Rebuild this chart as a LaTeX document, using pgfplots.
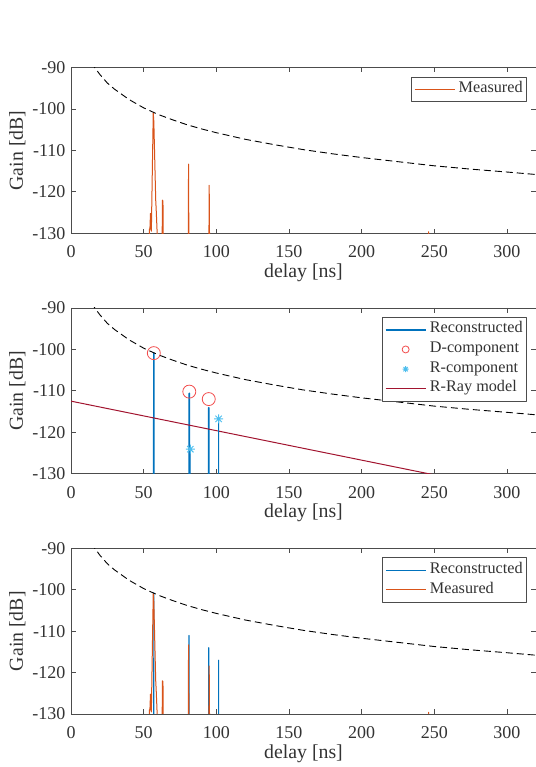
\documentclass[border=0pt]{standalone}
\usepackage{fontspec}
\setmainfont{Liberation Serif}
\usepackage{pgfplots}
\pgfplotsset{compat=1.18}
\definecolor{mblue}{rgb}{0,0.447,0.741}
\definecolor{morange}{rgb}{0.85,0.325,0.098}
\definecolor{mcyan}{rgb}{0.301,0.745,0.933}
\definecolor{mdred}{rgb}{0.635,0.078,0.184}
\definecolor{mred}{rgb}{0.95,0.3,0.3}
\definecolor{axgray}{rgb}{0.3,0.3,0.3}
\definecolor{txtgray}{rgb}{0.2,0.2,0.2}

\pgfdeclareplotmark{mast}{%
 \pgfpathmoveto{\pgfqpoint{-\pgfplotmarksize}{0pt}}\pgfpathlineto{\pgfqpoint{\pgfplotmarksize}{0pt}}%
 \pgfpathmoveto{\pgfqpoint{0pt}{-\pgfplotmarksize}}\pgfpathlineto{\pgfqpoint{0pt}{\pgfplotmarksize}}%
 \pgfpathmoveto{\pgfqpoint{-0.707\pgfplotmarksize}{-0.707\pgfplotmarksize}}\pgfpathlineto{\pgfqpoint{0.707\pgfplotmarksize}{0.707\pgfplotmarksize}}%
 \pgfpathmoveto{\pgfqpoint{-0.707\pgfplotmarksize}{0.707\pgfplotmarksize}}\pgfpathlineto{\pgfqpoint{0.707\pgfplotmarksize}{-0.707\pgfplotmarksize}}%
 \pgfusepathqstroke}

\pgfplotstableread{
x y
0 -140
53.6 -140
53.9 -129
54.3 -129
54.7 -125.2
55.0 -129
55.3 -129.5
56.6 -100.9
57.0 -103
58.3 -122
58.6 -124
59.3 -130
59.5 -140
62.6 -140
62.9 -122.0
63.3 -122.2
63.5 -140
80.6 -140
80.9 -113.3
81.2 -140
94.8 -140
95.1 -118.4
95.5 -140
245.8 -140
246.1 -129.6
246.4 -140
320 -140
}\measured

\pgfplotstableread{
x y
14 -88.6
16.4 -90
20 -91.7
25 -93.7
30 -95.2
40 -97.7
50 -99.7
60 -101.3
70 -102.6
80 -103.8
90 -104.8
100 -105.7
120 -107.3
140 -108.6
160 -109.8
180 -110.8
200 -111.7
225 -112.7
250 -113.7
275 -114.5
300 -115.2
320 -115.8
}\bound

\pgfplotsset{
  panel/.style={
    scale only axis, width=465bp, height=165.6bp, anchor=south west,
    xmin=0, xmax=320, ymin=-130, ymax=-90,
    xtick={0,50,...,300}, ytick={-130,-120,...,-90},
    tick align=inside, major tick length=4.6bp,
    axis line style={axgray, line width=0.8bp},
    every tick/.style={axgray, line width=0.8bp},
    tick label style={font=\fontsize{18bp}{20bp}\selectfont, text=txtgray},
    xticklabel style={yshift=-9bp},
    yticklabel style={xshift=-2bp},
    /pgf/number format/assume math mode=true,
    label style={font=\fontsize{19.8bp}{22bp}\selectfont, text=txtgray},
    xlabel={delay [ns]}, ylabel={Gain [dB]},
    xlabel style={yshift=1bp},
    legend cell align=left,
    legend style={at={(1,1)}, anchor=north east, xshift=-9bp, yshift=-9bp,
      draw=axgray, line width=0.8bp, fill=white,
      font=\fontsize{16.2bp}{18bp}\selectfont, text=txtgray,
      inner xsep=2.5bp, inner ysep=2.5bp, row sep=0bp, column sep=2bp,
      nodes={inner xsep=1.5bp, inner ysep=1.5bp, text height=11.5bp, text depth=5.2bp}},
    legend image code/.code={\draw[##1] (0bp,0bp) -- (40bp,0bp);},
    line join=round,
  },
  markleg/.style={legend image code/.code={\draw[##1, mark size=#1] plot coordinates {(20bp,0bp)};}},
  bnd/.style={black, line width=0.9bp, dash pattern=on 7bp off 4bp, forget plot},
}

\begin{document}
\begin{tikzpicture}
\path[use as bounding box] (0,0) rectangle (536bp,767bp);

% Panel 1
\begin{axis}[panel, at={(71bp,533.7bp)}]
\addplot[morange, line width=1bp] table[x=x,y=y] {\measured};
\addlegendentry{Measured}
\addplot[bnd] table[x=x,y=y] {\bound};
\end{axis}

% Panel 2
\begin{axis}[panel, at={(71bp,293.4bp)}]
\addplot[mblue, line width=1.6bp] coordinates {(0,-140)(56.95,-140)(57.0,-100.9)(57.05,-140)(81.35,-140)(81.4,-110.6)(81.45,-140)(94.75,-140)(94.8,-114.1)(94.85,-140)(320,-140)};
\addlegendentry{Reconstructed}
\addplot[mred, only marks, mark=o, mark size=6.5bp, line width=0.8bp, markleg=3.5bp]
  coordinates {(57.0,-100.9)(81.4,-110.2)(94.8,-112.0)};
\addlegendentry{D-component}
\addplot[mcyan, only marks, mark=mast, mark size=4.5bp, line width=0.9bp, markleg=3bp]
  coordinates {(82.1,-124.1)(101.6,-116.8)};
\addlegendentry{R-component}
\addplot[mdred, line width=1bp] coordinates {(0,-112.5)(320,-135.3)};
\addlegendentry{R-Ray model}
\addplot[mblue, line width=1.1bp, forget plot] coordinates {(0,-140)(81.95,-140)(82.0,-124.1)(82.05,-140)(101.55,-140)(101.6,-116.8)(101.65,-140)(320,-140)};
\addplot[bnd] table[x=x,y=y] {\bound};
\end{axis}

% Panel 3
\begin{axis}[panel, at={(71bp,53bp)}]
\addplot[mblue, line width=1.1bp] coordinates {(0,-140)(56.95,-140)(57.0,-100.7)(57.05,-140)(81.15,-140)(81.2,-111.0)(81.25,-140)(94.75,-140)(94.8,-114.0)(94.85,-140)(101.55,-140)(101.6,-117.0)(101.65,-140)(320,-140)};
\addlegendentry{Reconstructed}
\addplot[morange, line width=1bp] table[x=x,y=y] {\measured};
\addlegendentry{Measured}
\addplot[bnd] table[x=x,y=y] {\bound};
\end{axis}
\end{tikzpicture}
\end{document}
